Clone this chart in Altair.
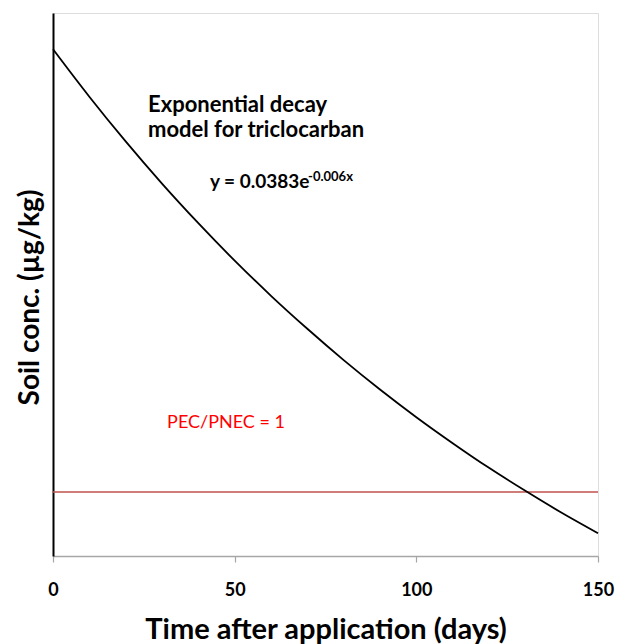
import altair as alt
import pandas as pd

# Curve values (exponential decay trendline)
days = [0, 10, 20, 30, 40, 50, 60, 70, 80, 90, 100, 110, 120, 130, 140, 150]
conc = [0.0383, 0.03607, 0.03397, 0.03199, 0.03013, 0.02837, 0.02672, 0.02517,
        0.02370, 0.02232, 0.02102, 0.01980, 0.01864, 0.01756, 0.01653, 0.01557]
pec_pnec_level = 0.0175
x_ticks = [0, 50, 100, 150]

FONT = "Lato"
curve_df = pd.DataFrame({"days": days, "conc": conc})
rule_df = pd.DataFrame({"conc": [pec_pnec_level]})

xscale = alt.Scale(domain=[0, 150], nice=False, zero=False)
yscale = alt.Scale(domain=[0.0145, 0.04], nice=False, zero=False)

curve = alt.Chart(curve_df).mark_line(color="black", strokeWidth=1.8, interpolate="monotone").encode(
    x=alt.X("days:Q", scale=xscale,
            axis=alt.Axis(title="Time after application (days)", values=x_ticks, format="d",
                          labelFont=FONT, labelFontSize=18, labelFontWeight="bold", labelColor="black",
                          labelPadding=19, labelFlush=False, titleFont=FONT, titleFontSize=29,
                          titleFontWeight="bold", titleColor="black", titlePadding=16,
                          domainColor="#a6a6a6", domainWidth=1.5,
                          tickColor="#a6a6a6", tickSize=6, tickWidth=1.2, grid=False)),
    y=alt.Y("conc:Q", scale=yscale,
            axis=alt.Axis(title="Soil conc. (µg/kg)", labels=False, ticks=False, grid=False,
                          domainColor="black", domainWidth=2, titleFont=FONT, titleFontSize=28,
                          titleFontWeight="bold", titleColor="black", titlePadding=9, titleY=284)),
)

rule = alt.Chart(rule_df).mark_rule(color="#C0504D", strokeWidth=1.5).encode(y=alt.Y("conc:Q", scale=yscale))

ann_df = pd.DataFrame({
    "days": [26.15, 26.15],
    "conc": [0.03535, 0.03416],
    "txt": ["Exponential decay", "model for triclocarban"],
})
ann = alt.Chart(ann_df).mark_text(align="left", baseline="alphabetic", font=FONT, fontSize=22,
                                  fontWeight="bold", color="black").encode(
    x=alt.X("days:Q", scale=xscale), y=alt.Y("conc:Q", scale=yscale), text="txt:N")

eq_df = pd.DataFrame({"days": [43.2], "conc": [0.03178], "txt": ["y = 0.0383e"]})
eq = alt.Chart(eq_df).mark_text(align="left", baseline="alphabetic", font=FONT, fontSize=19,
                                fontWeight="bold", color="black").encode(
    x=alt.X("days:Q", scale=xscale), y=alt.Y("conc:Q", scale=yscale), text="txt:N")

sup_df = pd.DataFrame({"days": [70.2], "conc": [0.03211], "txt": ["-0.006x"]})
sup = alt.Chart(sup_df).mark_text(align="left", baseline="alphabetic", font=FONT, fontSize=13,
                                  fontWeight="bold", color="black").encode(
    x=alt.X("days:Q", scale=xscale), y=alt.Y("conc:Q", scale=yscale), text="txt:N")

red_df = pd.DataFrame({"days": [31.4], "conc": [0.02051], "txt": ["PEC/PNEC = 1"]})
red = alt.Chart(red_df).mark_text(align="left", baseline="alphabetic", font=FONT, fontSize=18,
                                  color="#FF0000").encode(
    x=alt.X("days:Q", scale=xscale), y=alt.Y("conc:Q", scale=yscale), text="txt:N")

chart = alt.layer(rule, curve, ann, eq, sup, red).properties(
    width=545, height=543,
    autosize=alt.AutoSizeParams(type="none"),
    padding={"left": 53, "top": 13, "right": 20, "bottom": 88},
).configure_view(stroke="black", strokeWidth=1.5).configure(background="white")

chart.save("out.html", embed_options={"renderer": "svg", "actions": False})
